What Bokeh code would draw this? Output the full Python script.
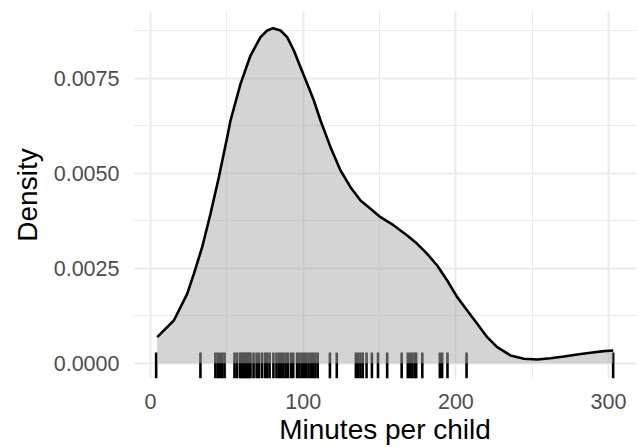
from bokeh.plotting import figure
from bokeh.models import FixedTicker, Range1d, PrintfTickFormatter
from bokeh.embed import file_html
from bokeh.resources import INLINE

# Density curve (minutes, density)
dens_x = [4.37, 15.28, 24.02, 28.39, 33.84, 39.30, 44.76, 50.22, 52.40, 58.95, 65.50,
          72.05, 76.42, 80.35, 85.15, 89.52, 93.88, 98.25, 102.62, 106.98, 111.35,
          117.9, 124.45, 131.0, 137.55, 144.1, 150.65, 159.38, 168.12, 174.67, 181.22,
          187.77, 194.32, 200.87, 207.42, 213.97, 220.52, 227.07, 235.8, 244.54,
          253.27, 262.0, 270.74, 279.47, 288.2, 296.94, 303.05]
dens_y = [0.000685, 0.001124, 0.001826, 0.002352, 0.003053, 0.003931, 0.004895,
          0.005948, 0.006387, 0.007352, 0.008097, 0.008580, 0.008755, 0.008817,
          0.008755, 0.008580, 0.008229, 0.007790, 0.007352, 0.006913, 0.006387,
          0.005685, 0.005071, 0.004632, 0.004282, 0.004062, 0.003843, 0.003624,
          0.003361, 0.003141, 0.002878, 0.002571, 0.002176, 0.001738, 0.001387,
          0.001036, 0.000685, 0.000422, 0.000203, 0.000115, 0.000097, 0.000132,
          0.000176, 0.000229, 0.000273, 0.000317, 0.000334]

# Rug: individual observations (minutes per child)
rug_x = [3.7, 32.7, 42.5, 44, 45.5, 47, 48.5, 55, 56.5, 58.5, 59.5, 60.5, 61.5, 62.5,
         63.5, 64.5, 65.5, 67.5, 69.5, 71, 73, 75, 76.5, 78, 80.5, 82.5, 84, 85.5, 87,
         88.5, 90, 92, 93.5, 96, 97.5, 99, 100.5, 102, 103.5, 105, 106.5, 108, 109.5,
         117.5, 122, 134.5, 136, 137.5, 139, 141.5, 145, 149, 155, 164.5, 168.5, 170,
         171.5, 173, 174, 178, 189.5, 191, 194.5, 207, 303]

x_ticks = [0, 100, 200, 300]
x_minor = [50, 150, 250]
y_ticks = [0.0, 0.0025, 0.005, 0.0075]
y_minor = [0.00125, 0.00375, 0.00625, 0.00875]

Y0, Y1 = -0.000403, 0.009255
FONT = "Liberation Sans"

p = figure(width=638, height=447, x_range=Range1d(-11.135, 318.3), y_range=Range1d(Y0, Y1),
           output_backend="svg", toolbar_location=None,
           min_border_left=133, min_border_right=2, min_border_top=11, min_border_bottom=69)
p.outline_line_color = None
p.background_fill_color = "white"
p.border_fill_color = "white"

# rug (underneath the density fill)
p.segment(x0=rug_x, y0=[Y0] * len(rug_x), x1=rug_x, y1=[0.00028] * len(rug_x),
          line_color="black", line_width=2.6)

p.varea(x=dens_x, y1=[0] * len(dens_x), y2=dens_y, fill_color="#aaaaaa", fill_alpha=0.5)
p.line(dens_x, dens_y, line_color="black", line_width=2.6)

p.xaxis.ticker = FixedTicker(ticks=x_ticks, minor_ticks=x_minor)
p.yaxis.ticker = FixedTicker(ticks=y_ticks, minor_ticks=y_minor)
p.yaxis.formatter = PrintfTickFormatter(format="%.4f")

for ax in (p.xaxis, p.yaxis):
    ax.axis_line_color = None
    ax.major_tick_line_color = None
    ax.minor_tick_line_color = None
    ax.major_tick_out = 0
    ax.major_tick_in = 0
    ax.minor_tick_out = 0
    ax.minor_tick_in = 0
    ax.major_label_text_font = FONT
    ax.major_label_text_font_size = "21.5px"
    ax.major_label_text_color = "#4d4d4d"
    ax.axis_label_text_font = FONT
    ax.axis_label_text_font_size = "28px"
    ax.axis_label_text_font_style = "normal"
    ax.axis_label_text_color = "black"

p.xaxis.axis_label = "Minutes per child"
p.yaxis.axis_label = "Density"
p.xaxis.major_label_standoff = 15
p.xaxis.axis_label_standoff = 2
p.yaxis.major_label_standoff = 14
p.yaxis.axis_label_standoff = 8

for g in (p.xgrid, p.ygrid):
    g.grid_line_color = "#ebebeb"
    g.grid_line_width = 2
    g.minor_grid_line_color = "#ebebeb"
    g.minor_grid_line_width = 1

open("out.html", "w").write(file_html(p, INLINE))
